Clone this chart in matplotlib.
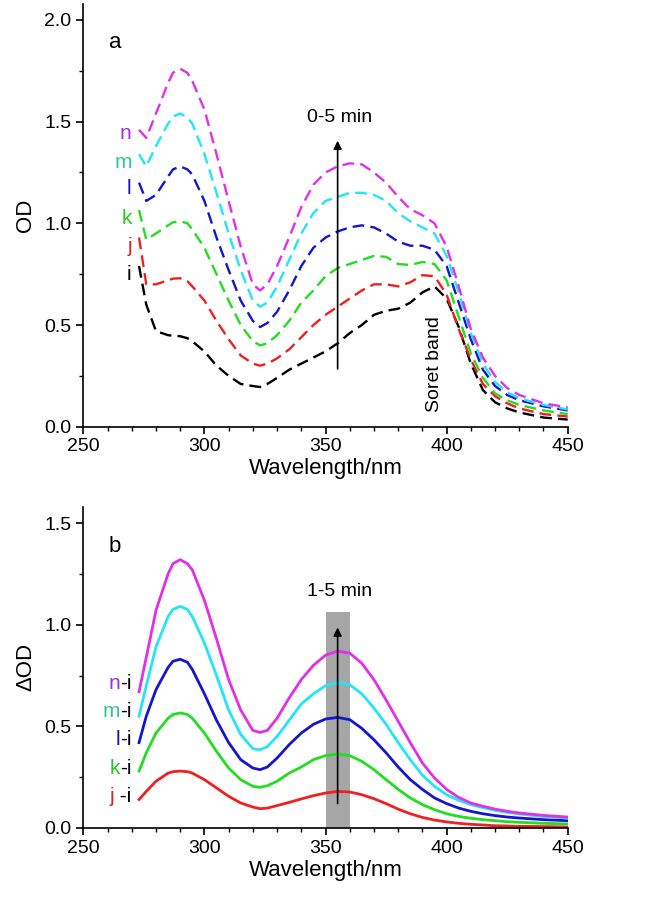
import matplotlib
matplotlib.use('agg')
import matplotlib.pyplot as plt

plt.rcParams['font.family'] = ['Liberation Sans', 'DejaVu Sans']

# wavelength grid (nm)
wl = [273, 276, 280, 285, 287, 290, 293, 295, 300, 305, 310, 315, 320, 323, 326, 330,
      335, 340, 345, 350, 355, 360, 365, 370, 375, 380, 385, 390, 395, 400,
      405, 410, 415, 420, 425, 430, 440, 450]

# panel a: absorbance spectra (OD)
od_i = [0.79, 0.60, 0.47, 0.45, 0.447, 0.445, 0.435, 0.42, 0.37, 0.30, 0.25, 0.21, 0.20, 0.195,
        0.21, 0.24, 0.28, 0.31, 0.34, 0.37, 0.41, 0.46, 0.50, 0.55, 0.57, 0.58,
        0.61, 0.66, 0.69, 0.63, 0.49, 0.31, 0.18, 0.12, 0.09, 0.07, 0.045, 0.035]
od_j = [0.93, 0.70, 0.70, 0.72, 0.728, 0.73, 0.715, 0.69, 0.62, 0.52, 0.43, 0.35, 0.31, 0.30,
        0.31, 0.336, 0.38, 0.44, 0.50, 0.55, 0.59, 0.63, 0.67, 0.70, 0.70, 0.69,
        0.71, 0.745, 0.74, 0.65, 0.48, 0.33, 0.21, 0.15, 0.115, 0.09, 0.062, 0.05]
od_k = [1.065, 0.92, 0.95, 0.99, 1.005, 1.01, 1.0, 0.97, 0.88, 0.75, 0.62, 0.50, 0.42, 0.40,
        0.41, 0.45, 0.52, 0.61, 0.67, 0.74, 0.78, 0.80, 0.82, 0.84, 0.835, 0.80,
        0.795, 0.81, 0.80, 0.72, 0.54, 0.36, 0.24, 0.164, 0.13, 0.107, 0.08, 0.062]
od_l = [1.20, 1.11, 1.14, 1.23, 1.265, 1.28, 1.265, 1.24, 1.11, 0.93, 0.77, 0.62, 0.52, 0.49,
        0.51, 0.565, 0.67, 0.79, 0.88, 0.93, 0.96, 0.98, 0.99, 0.98, 0.95, 0.91,
        0.89, 0.89, 0.87, 0.79, 0.61, 0.43, 0.28, 0.20, 0.156, 0.13, 0.10, 0.08]
od_m = [1.34, 1.28, 1.38, 1.49, 1.525, 1.54, 1.52, 1.49, 1.34, 1.15, 0.95, 0.77, 0.62, 0.59,
        0.61, 0.69, 0.82, 0.95, 1.05, 1.11, 1.13, 1.15, 1.15, 1.14, 1.11, 1.05,
        1.01, 0.98, 0.95, 0.84, 0.66, 0.46, 0.31, 0.22, 0.17, 0.14, 0.107, 0.085]
od_n = [1.46, 1.42, 1.54, 1.69, 1.74, 1.76, 1.74, 1.70, 1.56, 1.34, 1.11, 0.885, 0.70, 0.67,
        0.70, 0.79, 0.93, 1.08, 1.19, 1.25, 1.28, 1.295, 1.29, 1.25, 1.20, 1.13,
        1.07, 1.04, 1.00, 0.885, 0.69, 0.48, 0.34, 0.25, 0.19, 0.156, 0.115, 0.095]

# panel b: difference spectra (dOD)
d_ji = [0.14, 0.18, 0.23, 0.27, 0.277, 0.28, 0.277, 0.27, 0.238, 0.197, 0.156, 0.123, 0.103, 0.095,
        0.098, 0.11, 0.126, 0.143, 0.159, 0.172, 0.18, 0.177, 0.164, 0.144, 0.12, 0.093,
        0.07, 0.052, 0.039, 0.03, 0.023, 0.018, 0.015, 0.011, 0.01, 0.008, 0.007, 0.005]
d_ki = [0.28, 0.37, 0.467, 0.54, 0.558, 0.566, 0.558, 0.54, 0.467, 0.377, 0.295, 0.238, 0.205, 0.20,
        0.208, 0.23, 0.27, 0.30, 0.336, 0.356, 0.364, 0.356, 0.328, 0.287, 0.238, 0.19,
        0.148, 0.115, 0.09, 0.07, 0.057, 0.048, 0.041, 0.036, 0.031, 0.028, 0.023, 0.02]
d_li = [0.42, 0.55, 0.68, 0.79, 0.82, 0.83, 0.815, 0.78, 0.66, 0.53, 0.42, 0.336, 0.295, 0.287,
        0.30, 0.344, 0.41, 0.467, 0.51, 0.536, 0.544, 0.533, 0.49, 0.434, 0.37, 0.30,
        0.238, 0.19, 0.148, 0.12, 0.098, 0.082, 0.07, 0.061, 0.054, 0.049, 0.041, 0.036]
d_mi = [0.55, 0.70, 0.89, 1.04, 1.075, 1.09, 1.075, 1.04, 0.91, 0.75, 0.58, 0.46, 0.39, 0.385,
        0.40, 0.45, 0.53, 0.61, 0.66, 0.70, 0.716, 0.705, 0.66, 0.59, 0.51, 0.42,
        0.336, 0.26, 0.205, 0.164, 0.136, 0.115, 0.10, 0.087, 0.077, 0.069, 0.057, 0.049]
d_ni = [0.67, 0.84, 1.07, 1.25, 1.30, 1.32, 1.30, 1.27, 1.12, 0.93, 0.73, 0.58, 0.48, 0.47,
        0.48, 0.54, 0.64, 0.73, 0.80, 0.85, 0.87, 0.86, 0.81, 0.73, 0.63, 0.525,
        0.42, 0.32, 0.246, 0.19, 0.15, 0.123, 0.107, 0.093, 0.082, 0.074, 0.062, 0.054]

labels_a = ['i', 'j', 'k', 'l', 'm', 'n']
label_y_a = [0.746, 0.885, 1.025, 1.17, 1.30, 1.44]
labels_b = ['j', 'k', 'l', 'm', 'n']
label_y_b = [0.156, 0.295, 0.434, 0.574, 0.713]

line_colors = ['black', '#ee2020', '#22dd22', '#1515cc', '#22e5f5', '#e030e8']
text_colors = ['black', '#e02020', '#22cc22', '#1515cc', '#30c898', '#a030e0']

fig = plt.figure(figsize=(6.57, 9), dpi=100)
ax1 = fig.add_axes([0.1268, 0.5259, 0.7373, 0.47])
ax2 = fig.add_axes([0.1268, 0.08, 0.7373, 0.3569])


def style_axis(ax, ymax, ylabel):
    ax.set_xlim(250, 450)
    ax.set_ylim(0, ymax)
    ax.spines['top'].set_visible(False)
    ax.spines['right'].set_visible(False)
    ax.spines['left'].set_linewidth(1.2)
    ax.spines['bottom'].set_linewidth(1.2)
    ax.set_xticks([250, 300, 350, 400, 450])
    ax.set_xticks(range(260, 450, 10), minor=True)
    ax.tick_params(which='major', direction='out', length=5, width=1.2, labelsize=14)
    ax.tick_params(which='minor', direction='out', length=3, width=1.0)
    ax.set_xlabel('Wavelength/nm', fontsize=16, labelpad=2)
    ax.set_ylabel(ylabel, fontsize=16, labelpad=6)


# ---- panel a
spectra_a = [od_i, od_j, od_k, od_l, od_m, od_n]
for y, c in zip(spectra_a, line_colors):
    ax1.plot(wl, y, color=c, lw=1.7, dashes=(5, 2.6))
for lab, ly, c in zip(labels_a, label_y_a, text_colors):
    ax1.text(270, ly, lab, color=c, fontsize=15, ha='right', va='center')
style_axis(ax1, 2.08, 'OD')
ax1.set_yticks([0.0, 0.5, 1.0, 1.5, 2.0])
ax1.set_yticks([0.25, 0.75, 1.25, 1.75], minor=True)
ax1.yaxis.set_major_formatter(matplotlib.ticker.FormatStrFormatter('%.1f'))
ax1.annotate('', xy=(355, 1.42), xytext=(355, 0.27),
             arrowprops=dict(arrowstyle='-|>', color='black', lw=1.2, mutation_scale=12))
ax1.text(356, 1.52, '0-5 min', fontsize=14, ha='center', va='center')
ax1.text(395.2, 0.07, 'Soret band', fontsize=14, rotation=90, ha='center', va='bottom')
ax1.text(263, 1.89, 'a', fontsize=16, ha='center', va='center')

# ---- panel b
spectra_b = [d_ji, d_ki, d_li, d_mi, d_ni]
ax2.axvspan(350, 360, ymin=0, ymax=1.062 / 1.58, color='#a6a6a6', lw=0)
for y, c in zip(spectra_b, line_colors[1:]):
    ax2.plot(wl, y, color=c, lw=2.0)
for lab, ly, c in zip(labels_b, label_y_b, text_colors[1:]):
    suffix = ' -i' if lab == 'j' else '-i'
    t = ax2.text(270, ly, suffix, color='black', fontsize=15, ha='right', va='center')
    ax2.annotate(lab, xy=(0, 0.5), xycoords=t, color=c, fontsize=15,
                 ha='right', va='center')
style_axis(ax2, 1.58, '\u0394OD')
ax2.set_yticks([0.0, 0.5, 1.0, 1.5])
ax2.set_yticks([0.25, 0.75, 1.25], minor=True)
ax2.yaxis.set_major_formatter(matplotlib.ticker.FormatStrFormatter('%.1f'))
ax2.annotate('', xy=(355, 1.0), xytext=(355, 0.107),
             arrowprops=dict(arrowstyle='-|>', color='black', lw=1.2, mutation_scale=12))
ax2.text(356, 1.164, '1-5 min', fontsize=14, ha='center', va='center')
ax2.text(263, 1.385, 'b', fontsize=16, ha='center', va='center')

fig.savefig('out.png', dpi=100)
